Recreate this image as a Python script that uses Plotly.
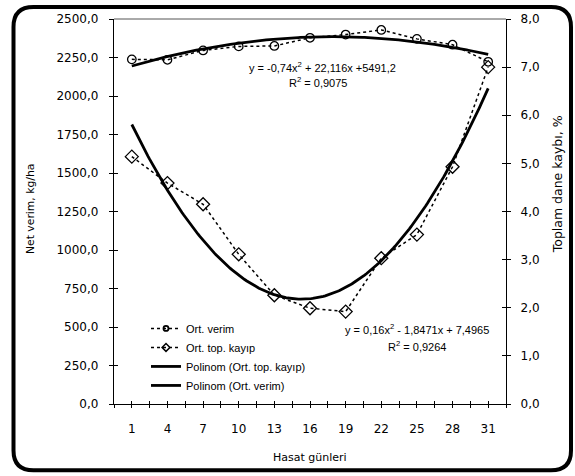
import numpy as np
import plotly.graph_objects as go

# ---- data ----
days = [1, 4, 7, 10, 13, 16, 19, 22, 25, 28, 31]
verim = [2238, 2235, 2296, 2322, 2325, 2378, 2399, 2429, 2371, 2333, 2222]   # kg/ha (left axis)
kayip = [5.14, 4.59, 4.15, 3.11, 2.26, 1.99, 1.92, 3.03, 3.52, 4.93, 7.00]   # % (right axis)
eq_verim = ["y = -0,74x<sup>2</sup> + 22,116x +5491,2", "R<sup>2</sup> = 0,9075"]
eq_kayip = ["y = 0,16x<sup>2</sup> - 1,8471x + 7,4965", "R<sup>2</sup> = 0,9264"]
left_ticks = [0, 250, 500, 750, 1000, 1250, 1500, 1750, 2000, 2250, 2500]
right_ticks = [0, 1, 2, 3, 4, 5, 6, 7, 8]

# ---- layout geometry (pixels) ----
W, H = 575, 476
L, R, T, B = 114, 69, 15, 72
PW, PH = W - L - R, H - T - B


def px(xp):
    return (xp - L) / PW


def py(yp):
    return (T + PH - yp) / PH


# polynomial trendlines (order 2, on point index like Excel)
idx = np.arange(1, len(days) + 1)
fine = np.linspace(1, len(days), 200)
fine_days = days[0] + (fine - 1) * (days[1] - days[0])
cv = np.polyfit(idx, verim, 2)
ck = np.polyfit(idx, kayip, 2)
trend_v = np.polyval(cv, fine)
trend_k = np.polyval(ck, fine)

dotted = dict(color="black", width=1.5, dash="dot")
fig = go.Figure()
fig.add_trace(go.Scatter(x=days, y=verim, name="Ort. verim", mode="lines+markers", showlegend=False,
                         line=dotted,
                         marker=dict(symbol="circle-open", size=8.5, color="black", line=dict(width=1.3))))
fig.add_trace(go.Scatter(x=days, y=kayip, name="Ort. top. kayıp", mode="lines+markers", yaxis="y2",
                         showlegend=False, line=dotted,
                         marker=dict(symbol="diamond-open", size=10, color="black", line=dict(width=1.3))))
fig.add_trace(go.Scatter(x=fine_days, y=trend_k, name="Polinom (Ort. top. kayıp)", mode="lines", yaxis="y2",
                         showlegend=False, line=dict(color="black", width=2.8)))
fig.add_trace(go.Scatter(x=fine_days, y=trend_v, name="Polinom (Ort. verim)", mode="lines",
                         showlegend=False, line=dict(color="black", width=2.8)))

# legend samples (small markers as in the reference legend)
fig.add_trace(go.Scatter(x=[None], y=[None], name="Ort. verim", mode="lines+markers", line=dotted,
                         marker=dict(symbol="circle-open", size=5, color="black", line=dict(width=1.8))))
fig.add_trace(go.Scatter(x=[None], y=[None], name="Ort. top. kayıp", mode="lines+markers", line=dotted,
                         marker=dict(symbol="diamond-open", size=6, color="black", line=dict(width=1.5))))
fig.add_trace(go.Scatter(x=[None], y=[None], name="Polinom (Ort. top. kayıp)", mode="lines",
                         line=dict(color="black", width=2.8)))
fig.add_trace(go.Scatter(x=[None], y=[None], name="Polinom (Ort. verim)", mode="lines",
                         line=dict(color="black", width=2.8)))

# dummy traces to activate the overlay axes used for crossing ticks
for xa, ya in [("x2", "y"), ("x", "y3"), ("x", "y4")]:
    fig.add_trace(go.Scatter(x=[None], y=[None], xaxis=xa, yaxis=ya, showlegend=False, hoverinfo="skip"))

step = (days[1] - days[0]) / 2
xr = [days[0] - step, days[-1] + step]

tickfont = dict(family="DejaVu Sans", size=12, color="black")
fig.update_layout(
    width=W, height=H, autosize=False,
    margin=dict(l=L, r=R, t=T, b=B, pad=0),
    paper_bgcolor="white", plot_bgcolor="white",
    separators=",.",
    showlegend=True,
    legend=dict(x=px(146), y=py(313), xanchor="left", yanchor="top",
                font=dict(family="Liberation Sans", size=11, color="black"),
                bgcolor="rgba(0,0,0,0)", borderwidth=0, tracegroupgap=0, traceorder="normal"),
    xaxis=dict(range=xr, tickmode="array", tickvals=days,
               ticks="outside", ticklen=3, tickwidth=1, tickcolor="black",
               minor=dict(tickmode="linear", tick0=days[0] - step, dtick=step,
                          ticks="outside", ticklen=3, tickwidth=1, tickcolor="black"),
               showline=True, linecolor="black", linewidth=1.3, showgrid=False, zeroline=False,
               tickfont=tickfont, ticklabelstandoff=10),
    xaxis2=dict(range=xr, overlaying="x", anchor="y", side="bottom", tickmode="array", tickvals=days,
                showticklabels=False, ticks="inside", ticklen=3, tickwidth=1, tickcolor="black",
                minor=dict(tickmode="linear", tick0=days[0] - step, dtick=step,
                           ticks="inside", ticklen=3, tickwidth=1, tickcolor="black"),
                showline=False, showgrid=False, zeroline=False),
    yaxis=dict(range=[0, 2500], tickmode="array", tickvals=left_ticks, tickformat=".1f",
               ticks="outside", ticklen=4, tickwidth=1, tickcolor="black",
               showline=True, linecolor="black", linewidth=1.3, showgrid=False, zeroline=False,
               tickfont=tickfont, ticklabelstandoff=8),
    yaxis2=dict(range=[0, 8], overlaying="y", side="right", anchor="x", tickmode="array", tickvals=right_ticks,
                tickformat=".1f", ticks="outside", ticklen=4, tickwidth=1, tickcolor="black",
                showline=True, linecolor="black", linewidth=1.3, showgrid=False, zeroline=False,
                tickfont=tickfont, ticklabelstandoff=7),
    yaxis3=dict(range=[0, 2500], overlaying="y", side="left", anchor="x", tickmode="array", tickvals=left_ticks,
                showticklabels=False, ticks="inside", ticklen=4, tickwidth=1, tickcolor="black",
                showline=False, showgrid=False, zeroline=False),
    yaxis4=dict(range=[0, 8], overlaying="y", side="right", anchor="x", tickmode="array", tickvals=right_ticks,
                showticklabels=False, ticks="inside", ticklen=4, tickwidth=1, tickcolor="black",
                showline=False, showgrid=False, zeroline=False),
)

eqfont = dict(family="Liberation Sans", size=11, color="black")
ann = [
    dict(text=eq_verim[0], x=px(322), y=py(63)),
    dict(text=eq_verim[1], x=px(318), y=py(79)),
    dict(text=eq_kayip[0], x=px(417), y=py(328)),
    dict(text=eq_kayip[1], x=px(417), y=py(345)),
]
for a in ann:
    fig.add_annotation(xref="paper", yref="paper", showarrow=False, font=eqfont,
                       xanchor="center", yanchor="middle", **a)

titlefont = dict(family="DejaVu Sans", size=11, color="black")
fig.add_annotation(text="Hasat günleri", xref="paper", yref="paper", x=px(310), y=py(458),
                   showarrow=False, font=titlefont, xanchor="center", yanchor="middle")
fig.add_annotation(text="Net verim, kg/ha", xref="paper", yref="paper", x=px(30), y=py(207),
                   showarrow=False, font=dict(family="DejaVu Sans", size=10.8, color="black"),
                   textangle=-90, xanchor="center", yanchor="middle")
fig.add_annotation(text="Toplam dane kaybı, %", xref="paper", yref="paper", x=px(557), y=py(182),
                   showarrow=False, font=dict(family="DejaVu Sans", size=12.5, color="black"),
                   textangle=-90, xanchor="center", yanchor="middle")

# top frame line
fig.add_shape(type="line", xref="paper", yref="paper", x0=0, x1=1, y0=1, y1=1,
              line=dict(color="#555555", width=1))

# rounded outer border
xl, xrp, yt, yb, r = 13.5, 571, 3, 471, 20
path = (f"M {px(xl + r)},{py(yt)} L {px(xrp - r)},{py(yt)} Q {px(xrp)},{py(yt)} {px(xrp)},{py(yt + r)} "
        f"L {px(xrp)},{py(yb - r)} Q {px(xrp)},{py(yb)} {px(xrp - r)},{py(yb)} "
        f"L {px(xl + r)},{py(yb)} Q {px(xl)},{py(yb)} {px(xl)},{py(yb - r)} "
        f"L {px(xl)},{py(yt + r)} Q {px(xl)},{py(yt)} {px(xl + r)},{py(yt)} Z")
fig.add_shape(type="path", xref="paper", yref="paper", path=path, line=dict(color="black", width=4))

fig.write_html("out.html")
